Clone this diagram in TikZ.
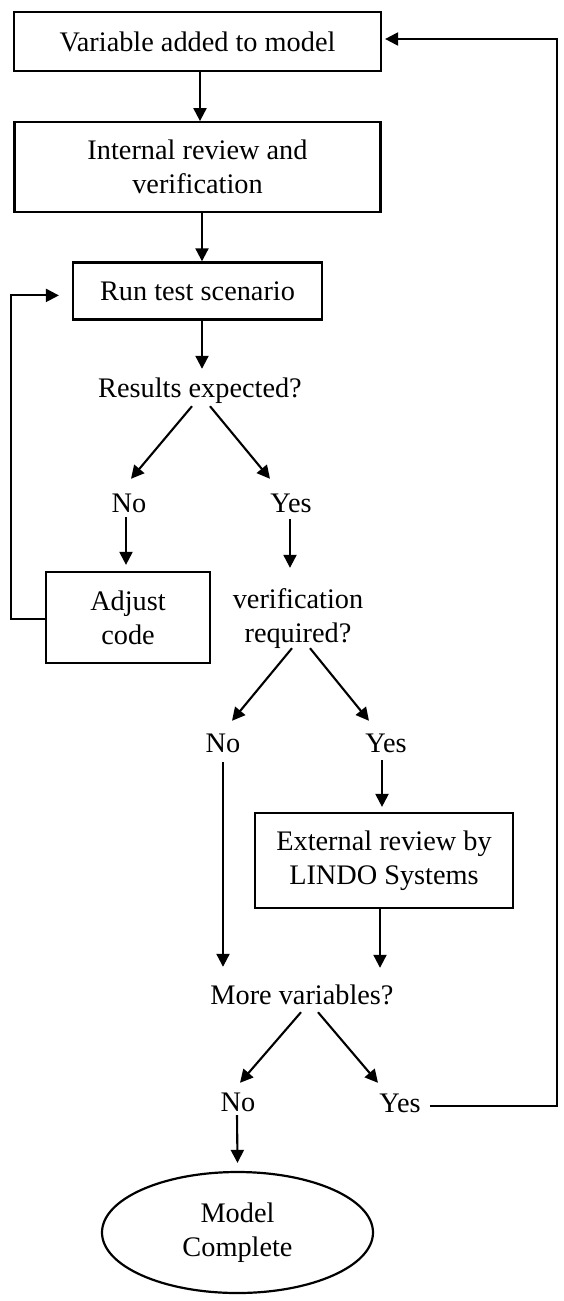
\documentclass[tikz,border=0pt]{standalone}
\usepackage{fontspec}
\setmainfont{Liberation Serif}
\usetikzlibrary{shapes.geometric, arrows.meta, positioning}

\begin{document}
\begin{tikzpicture}[
        x=1pt, y=-1pt,
        font=\fontsize{28.3}{34}\selectfont,
        box/.style={draw, rectangle, align=center, inner sep=0pt, line width=2.2pt},
        endbox/.style={draw, ellipse, align=center, inner sep=0pt, line width=2.2pt, minimum width=271pt, minimum height=121pt},
        lbl/.style={inner sep=0pt, text height=20pt, text depth=6pt},
        arrow/.style={-{Triangle[length=13pt,width=13pt]}, line width=2.1pt}
    ]
        \useasboundingbox (0,0) rectangle (564,1301);
        \node[box, minimum width=367pt, minimum height=59pt] (added) at (197.5,41.5) {Variable added to model};
        \node[box, minimum width=366pt, minimum height=90pt, below=49pt of added] (internal) {Internal review and\\verification};
        \node[box, minimum width=249pt, minimum height=57pt, below=48pt of internal] (runtest) {Run test scenario};
        \node[lbl] (expected) at (200,390) {Results expected?};
        \node[lbl] (no1) at (129,505) {No};
        \node[lbl] (yes1) at (291,505) {Yes};
        \node[box, minimum width=164pt, minimum height=91pt] (adjust) at (128,617.5) {Adjust\\code};
        \node[align=center, inner sep=0pt] (verreq) at (298,619) {verification\\required?};
        \node[lbl] (no2) at (223,745) {No};
        \node[lbl] (yes2) at (386,745) {Yes};
        \node[box, minimum width=258pt, minimum height=95pt] (external) at (384,860.5) {External review by\\LINDO Systems};
        \node[lbl] (more) at (302,997) {More variables?};
        \node[lbl] (no3) at (238,1104) {No};
        \node[lbl] (yes3) at (400,1105) {Yes};
        \node[endbox] (complete) at (237.5,1232.5) {Model\\Complete};
        \coordinate (loopL) at (11,619);
        \coordinate (loopR) at (557,39);
        % main line
        \draw[arrow] ([xshift=2.5pt]added.south) -- ([xshift=2.5pt]internal.north);
        \draw[arrow] ([xshift=4.5pt]internal.south) -- ([xshift=4.5pt]runtest.north);
        \draw[arrow] ([xshift=4.5pt]runtest.south) -- ([shift={(2,-8)}]expected.north);
        \draw[arrow] ([shift={(-8,3)}]expected.south) -- ([shift={(2,-13)}]no1.north);
        \draw[arrow] ([shift={(10,3)}]expected.south) -- ([shift={(-21,-13)}]yes1.north);
        \draw[arrow] ([shift={(-3,-1)}]no1.south) -- ([shift={(-2,-6)}]adjust.north);
        \draw[arrow] ([shift={(-1,1)}]yes1.south) -- ([shift={(-8,-21)}]verreq.north);
        \draw[arrow] ([shift={(-6,-1)}]verreq.south) -- ([shift={(9,-11)}]no2.north);
        \draw[arrow] ([shift={(12,-1)}]verreq.south) -- ([shift={(-17,-11)}]yes2.north);
        \draw[arrow] ([shift={(0,4)}]no2.south) -- ([shift={(-79,-17)}]more.north);
        \draw[arrow] ([shift={(-4,2)}]yes2.south) -- ([shift={(-2,-5)}]external.north);
        \draw[arrow] ([shift={(-4,0)}]external.south) -- ([shift={(78,-16)}]more.north);
        \draw[arrow] ([shift={(-1,2)}]more.south) -- ([shift={(2,-8)}]no3.north);
        \draw[arrow] ([shift={(16,2)}]more.south) -- ([shift={(-22,-9)}]yes3.north);
        \draw[arrow] ([shift={(-1,-2)}]no3.south) -- ([shift={(0,-8)}]complete.north);
        % loops back
        \draw[arrow] ([shift={(0,1.5)}]adjust.west) -- (loopL) |- ([shift={(-13,4.5)}]runtest.west);
        \draw[arrow] ([shift={(9,1)}]yes3.east) -| (loopR) -- ([shift={(3,-2.5)}]added.east);
    \end{tikzpicture}
\end{document}
